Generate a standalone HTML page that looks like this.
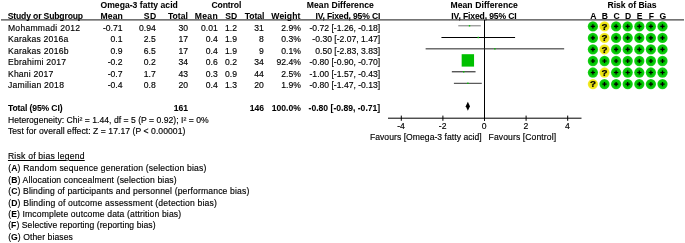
<!DOCTYPE html>
<html><head><meta charset="utf-8"><title>Forest plot</title>
<style>
html,body{margin:0;padding:0;background:#fff;}
#w{filter:blur(0.3px);position:relative;width:685px;height:243px;overflow:hidden;background:#fff;font-family:"Liberation Sans",Arial,sans-serif;font-size:8.6px;color:#000;}
.t{position:absolute;white-space:nowrap;line-height:12px;height:12px;-webkit-text-stroke:0.15px #000;}
.b,.t b{font-weight:bold;-webkit-text-stroke:0.05px #000;}
.q{width:20px;text-align:center;font-size:9.8px;-webkit-text-stroke:0.2px #000;}
svg{position:absolute;left:0;top:0;}
</style></head><body>
<div id="w">
<svg width="685" height="243" viewBox="0 0 685 243">
<defs>
<radialGradient id="gg"><stop offset="0" stop-color="#008000"/><stop offset="0.3" stop-color="#00a800"/><stop offset="0.5" stop-color="#00c400"/><stop offset="0.85" stop-color="#10cc10"/><stop offset="1" stop-color="#30d830"/></radialGradient>
<radialGradient id="yg"><stop offset="0" stop-color="#c8c010"/><stop offset="0.55" stop-color="#e8e010"/><stop offset="0.8" stop-color="#f0e818"/><stop offset="1" stop-color="#f4ee50"/></radialGradient>
</defs>
<line x1="1" y1="19.9" x2="684" y2="19.9" stroke="#444" stroke-width="1.1"/>
<line x1="484.5" y1="19.9" x2="484.5" y2="120.8" stroke="#000" stroke-width="1"/>
<line x1="388" y1="118.2" x2="581.5" y2="118.2" stroke="#000" stroke-width="1"/>
<line x1="401.30" y1="115.60000000000001" x2="401.30" y2="120.8" stroke="#000" stroke-width="1"/>
<line x1="442.90" y1="115.60000000000001" x2="442.90" y2="120.8" stroke="#000" stroke-width="1"/>
<line x1="484.50" y1="115.60000000000001" x2="484.50" y2="120.8" stroke="#000" stroke-width="1"/>
<line x1="526.10" y1="115.60000000000001" x2="526.10" y2="120.8" stroke="#000" stroke-width="1"/>
<line x1="567.70" y1="115.60000000000001" x2="567.70" y2="120.8" stroke="#000" stroke-width="1"/>
<line x1="458.29" y1="25.80" x2="480.76" y2="25.80" stroke="#777" stroke-width="1"/>
<rect x="468.82" y="25.10" width="1.4" height="1.4" fill="#00c000"/>
<circle cx="592.90" cy="26.40" r="5.15" fill="url(#gg)"/>
<path d="M590.80 26.40H595.00M592.90 24.30V28.50" stroke="#000" stroke-width="1.2" fill="none"/>
<circle cx="604.50" cy="26.40" r="5.15" fill="url(#yg)"/>
<circle cx="616.10" cy="26.40" r="5.15" fill="url(#gg)"/>
<path d="M614.00 26.40H618.20M616.10 24.30V28.50" stroke="#000" stroke-width="1.2" fill="none"/>
<circle cx="627.70" cy="26.40" r="5.15" fill="url(#gg)"/>
<path d="M625.60 26.40H629.80M627.70 24.30V28.50" stroke="#000" stroke-width="1.2" fill="none"/>
<circle cx="639.30" cy="26.40" r="5.15" fill="url(#gg)"/>
<path d="M637.20 26.40H641.40M639.30 24.30V28.50" stroke="#000" stroke-width="1.2" fill="none"/>
<circle cx="650.90" cy="26.40" r="5.15" fill="url(#gg)"/>
<path d="M648.80 26.40H653.00M650.90 24.30V28.50" stroke="#000" stroke-width="1.2" fill="none"/>
<circle cx="662.50" cy="26.40" r="5.15" fill="url(#gg)"/>
<path d="M660.40 26.40H664.60M662.50 24.30V28.50" stroke="#000" stroke-width="1.2" fill="none"/>
<line x1="441.44" y1="37.50" x2="515.08" y2="37.50" stroke="#000" stroke-width="1"/>
<rect x="477.56" y="36.80" width="1.4" height="1.4" fill="#00c000"/>
<circle cx="592.90" cy="37.93" r="5.15" fill="url(#gg)"/>
<path d="M590.80 37.93H595.00M592.90 35.83V40.03" stroke="#000" stroke-width="1.2" fill="none"/>
<circle cx="604.50" cy="37.93" r="5.15" fill="url(#yg)"/>
<circle cx="616.10" cy="37.93" r="5.15" fill="url(#gg)"/>
<path d="M614.00 37.93H618.20M616.10 35.83V40.03" stroke="#000" stroke-width="1.2" fill="none"/>
<circle cx="627.70" cy="37.93" r="5.15" fill="url(#gg)"/>
<path d="M625.60 37.93H629.80M627.70 35.83V40.03" stroke="#000" stroke-width="1.2" fill="none"/>
<circle cx="639.30" cy="37.93" r="5.15" fill="url(#gg)"/>
<path d="M637.20 37.93H641.40M639.30 35.83V40.03" stroke="#000" stroke-width="1.2" fill="none"/>
<circle cx="650.90" cy="37.93" r="5.15" fill="url(#gg)"/>
<path d="M648.80 37.93H653.00M650.90 35.83V40.03" stroke="#000" stroke-width="1.2" fill="none"/>
<circle cx="662.50" cy="37.93" r="5.15" fill="url(#gg)"/>
<path d="M660.40 37.93H664.60M662.50 35.83V40.03" stroke="#000" stroke-width="1.2" fill="none"/>
<line x1="425.64" y1="48.85" x2="564.16" y2="48.85" stroke="#222" stroke-width="1"/>
<rect x="494.20" y="48.15" width="1.4" height="1.4" fill="#00c000"/>
<circle cx="592.90" cy="49.46" r="5.15" fill="url(#gg)"/>
<path d="M590.80 49.46H595.00M592.90 47.36V51.56" stroke="#000" stroke-width="1.2" fill="none"/>
<circle cx="604.50" cy="49.46" r="5.15" fill="url(#yg)"/>
<circle cx="616.10" cy="49.46" r="5.15" fill="url(#gg)"/>
<path d="M614.00 49.46H618.20M616.10 47.36V51.56" stroke="#000" stroke-width="1.2" fill="none"/>
<circle cx="627.70" cy="49.46" r="5.15" fill="url(#gg)"/>
<path d="M625.60 49.46H629.80M627.70 47.36V51.56" stroke="#000" stroke-width="1.2" fill="none"/>
<circle cx="639.30" cy="49.46" r="5.15" fill="url(#gg)"/>
<path d="M637.20 49.46H641.40M639.30 47.36V51.56" stroke="#000" stroke-width="1.2" fill="none"/>
<circle cx="650.90" cy="49.46" r="5.15" fill="url(#gg)"/>
<path d="M648.80 49.46H653.00M650.90 47.36V51.56" stroke="#000" stroke-width="1.2" fill="none"/>
<circle cx="662.50" cy="49.46" r="5.15" fill="url(#gg)"/>
<path d="M660.40 49.46H664.60M662.50 47.36V51.56" stroke="#000" stroke-width="1.2" fill="none"/>
<line x1="465.78" y1="60.40" x2="469.94" y2="60.40" stroke="#000" stroke-width="1"/>
<rect x="461.66" y="54.20" width="12.4" height="12.4" fill="#00c000"/>
<circle cx="592.90" cy="60.99" r="5.15" fill="url(#gg)"/>
<path d="M590.80 60.99H595.00M592.90 58.89V63.09" stroke="#000" stroke-width="1.2" fill="none"/>
<circle cx="604.50" cy="60.99" r="5.15" fill="url(#gg)"/>
<path d="M602.40 60.99H606.60M604.50 58.89V63.09" stroke="#000" stroke-width="1.2" fill="none"/>
<circle cx="616.10" cy="60.99" r="5.15" fill="url(#gg)"/>
<path d="M614.00 60.99H618.20M616.10 58.89V63.09" stroke="#000" stroke-width="1.2" fill="none"/>
<circle cx="627.70" cy="60.99" r="5.15" fill="url(#gg)"/>
<path d="M625.60 60.99H629.80M627.70 58.89V63.09" stroke="#000" stroke-width="1.2" fill="none"/>
<circle cx="639.30" cy="60.99" r="5.15" fill="url(#gg)"/>
<path d="M637.20 60.99H641.40M639.30 58.89V63.09" stroke="#000" stroke-width="1.2" fill="none"/>
<circle cx="650.90" cy="60.99" r="5.15" fill="url(#gg)"/>
<path d="M648.80 60.99H653.00M650.90 58.89V63.09" stroke="#000" stroke-width="1.2" fill="none"/>
<circle cx="662.50" cy="60.99" r="5.15" fill="url(#gg)"/>
<path d="M660.40 60.99H664.60M662.50 58.89V63.09" stroke="#000" stroke-width="1.2" fill="none"/>
<line x1="451.84" y1="71.80" x2="475.56" y2="71.80" stroke="#111" stroke-width="1"/>
<rect x="463.00" y="71.10" width="1.4" height="1.4" fill="#00c000"/>
<circle cx="592.90" cy="72.52" r="5.15" fill="url(#gg)"/>
<path d="M590.80 72.52H595.00M592.90 70.42V74.62" stroke="#000" stroke-width="1.2" fill="none"/>
<circle cx="604.50" cy="72.52" r="5.15" fill="url(#yg)"/>
<circle cx="616.10" cy="72.52" r="5.15" fill="url(#gg)"/>
<path d="M614.00 72.52H618.20M616.10 70.42V74.62" stroke="#000" stroke-width="1.2" fill="none"/>
<circle cx="627.70" cy="72.52" r="5.15" fill="url(#gg)"/>
<path d="M625.60 72.52H629.80M627.70 70.42V74.62" stroke="#000" stroke-width="1.2" fill="none"/>
<circle cx="639.30" cy="72.52" r="5.15" fill="url(#gg)"/>
<path d="M637.20 72.52H641.40M639.30 70.42V74.62" stroke="#000" stroke-width="1.2" fill="none"/>
<circle cx="650.90" cy="72.52" r="5.15" fill="url(#gg)"/>
<path d="M648.80 72.52H653.00M650.90 70.42V74.62" stroke="#000" stroke-width="1.2" fill="none"/>
<circle cx="662.50" cy="72.52" r="5.15" fill="url(#gg)"/>
<path d="M660.40 72.52H664.60M662.50 70.42V74.62" stroke="#000" stroke-width="1.2" fill="none"/>
<line x1="453.92" y1="83.30" x2="481.80" y2="83.30" stroke="#333" stroke-width="1"/>
<rect x="467.16" y="82.60" width="1.4" height="1.4" fill="#00c000"/>
<circle cx="592.90" cy="84.05" r="5.15" fill="url(#yg)"/>
<circle cx="604.50" cy="84.05" r="5.15" fill="url(#gg)"/>
<path d="M602.40 84.05H606.60M604.50 81.95V86.15" stroke="#000" stroke-width="1.2" fill="none"/>
<circle cx="616.10" cy="84.05" r="5.15" fill="url(#gg)"/>
<path d="M614.00 84.05H618.20M616.10 81.95V86.15" stroke="#000" stroke-width="1.2" fill="none"/>
<circle cx="627.70" cy="84.05" r="5.15" fill="url(#gg)"/>
<path d="M625.60 84.05H629.80M627.70 81.95V86.15" stroke="#000" stroke-width="1.2" fill="none"/>
<circle cx="639.30" cy="84.05" r="5.15" fill="url(#gg)"/>
<path d="M637.20 84.05H641.40M639.30 81.95V86.15" stroke="#000" stroke-width="1.2" fill="none"/>
<circle cx="650.90" cy="84.05" r="5.15" fill="url(#gg)"/>
<path d="M648.80 84.05H653.00M650.90 81.95V86.15" stroke="#000" stroke-width="1.2" fill="none"/>
<circle cx="662.50" cy="84.05" r="5.15" fill="url(#gg)"/>
<path d="M660.40 84.05H664.60M662.50 81.95V86.15" stroke="#000" stroke-width="1.2" fill="none"/>
<polygon points="465.76,106.3 467.86,101.8 469.96,106.3 467.86,110.8" fill="#000"/>
</svg>
<span class="t b" style="top:-1.35px;left:100.45px;letter-spacing:0.030px;">Omega-3 fatty acid</span>
<span class="t b" style="top:-1.35px;left:211.45px;letter-spacing:-0.110px;">Control</span>
<span class="t b" style="top:-1.35px;left:306.85px;letter-spacing:0.044px;">Mean Difference</span>
<span class="t b" style="top:-1.35px;left:450.45px;letter-spacing:0.072px;">Mean Difference</span>
<span class="t b" style="top:-1.35px;left:607.45px;letter-spacing:-0.009px;">Risk of Bias</span>
<span class="t b" style="top:9.85px;left:7.65px;letter-spacing:-0.146px;">Study or Subgroup</span>
<span class="t b" style="top:9.85px;left:100.45px;letter-spacing:0.144px;">Mean</span>
<span class="t b" style="top:9.85px;left:143.85px;letter-spacing:0.347px;">SD</span>
<span class="t b" style="top:9.85px;left:167.95px;letter-spacing:0.002px;">Total</span>
<span class="t b" style="top:9.85px;left:194.85px;letter-spacing:0.277px;">Mean</span>
<span class="t b" style="top:9.85px;left:225.35px;letter-spacing:-0.153px;">SD</span>
<span class="t b" style="top:9.85px;left:244.85px;letter-spacing:-0.098px;">Total</span>
<span class="t b" style="top:9.85px;left:271.35px;letter-spacing:0.103px;">Weight</span>
<span class="t b" style="top:9.85px;left:315.45px;letter-spacing:-0.163px;">IV, Fixed, 95% CI</span>
<span class="t b" style="top:9.85px;left:451.35px;letter-spacing:-0.138px;">IV, Fixed, 95% CI</span>
<span class="t b" style="top:9.85px;left:443.30px;width:300px;text-align:center;">A</span>
<span class="t b" style="top:9.85px;left:454.90px;width:300px;text-align:center;">B</span>
<span class="t b" style="top:9.85px;left:466.50px;width:300px;text-align:center;">C</span>
<span class="t b" style="top:9.85px;left:478.10px;width:300px;text-align:center;">D</span>
<span class="t b" style="top:9.85px;left:489.70px;width:300px;text-align:center;">E</span>
<span class="t b" style="top:9.85px;left:501.30px;width:300px;text-align:center;">F</span>
<span class="t b" style="top:9.85px;left:512.90px;width:300px;text-align:center;">G</span>
<span class="t" style="top:119.75px;left:251.00px;width:300px;text-align:center;">-4</span>
<span class="t" style="top:119.75px;left:292.60px;width:300px;text-align:center;">-2</span>
<span class="t" style="top:119.75px;left:334.20px;width:300px;text-align:center;">0</span>
<span class="t" style="top:119.75px;left:375.80px;width:300px;text-align:center;">2</span>
<span class="t" style="top:119.75px;left:417.40px;width:300px;text-align:center;">4</span>
<span class="t" style="top:21.75px;left:7.95px;letter-spacing:0.254px;">Mohammadi 2012</span>
<span class="t" style="top:21.75px;right:562.50px;">-0.71</span>
<span class="t" style="top:21.75px;right:529.30px;">0.94</span>
<span class="t" style="top:21.75px;right:497.00px;">30</span>
<span class="t" style="top:21.75px;right:467.30px;">0.01</span>
<span class="t" style="top:21.75px;right:448.00px;">1.2</span>
<span class="t" style="top:21.75px;right:421.20px;">31</span>
<span class="t" style="top:21.75px;right:384.20px;">2.9%</span>
<span class="t" style="top:21.75px;right:304.80px;">-0.72 [-1.26, -0.18]</span>
<span class="t b q" style="left:594.50px;top:20.55px;">?</span>
<span class="t" style="top:33.28px;left:7.95px;letter-spacing:0.216px;">Karakas 2016a</span>
<span class="t" style="top:33.28px;right:562.50px;">0.1</span>
<span class="t" style="top:33.28px;right:529.30px;">2.5</span>
<span class="t" style="top:33.28px;right:497.00px;">17</span>
<span class="t" style="top:33.28px;right:467.30px;">0.4</span>
<span class="t" style="top:33.28px;right:448.00px;">1.9</span>
<span class="t" style="top:33.28px;right:421.20px;">8</span>
<span class="t" style="top:33.28px;right:384.20px;">0.3%</span>
<span class="t" style="top:33.28px;right:304.80px;">-0.30 [-2.07, 1.47]</span>
<span class="t b q" style="left:594.50px;top:32.08px;">?</span>
<span class="t" style="top:44.81px;left:7.95px;letter-spacing:0.241px;">Karakas 2016b</span>
<span class="t" style="top:44.81px;right:562.50px;">0.9</span>
<span class="t" style="top:44.81px;right:529.30px;">6.5</span>
<span class="t" style="top:44.81px;right:497.00px;">17</span>
<span class="t" style="top:44.81px;right:467.30px;">0.4</span>
<span class="t" style="top:44.81px;right:448.00px;">1.9</span>
<span class="t" style="top:44.81px;right:421.20px;">9</span>
<span class="t" style="top:44.81px;right:384.20px;">0.1%</span>
<span class="t" style="top:44.81px;right:304.80px;">0.50 [-2.83, 3.83]</span>
<span class="t b q" style="left:594.50px;top:43.61px;">?</span>
<span class="t" style="top:56.34px;left:7.95px;letter-spacing:0.232px;">Ebrahimi 2017</span>
<span class="t" style="top:56.34px;right:562.50px;">-0.2</span>
<span class="t" style="top:56.34px;right:529.30px;">0.2</span>
<span class="t" style="top:56.34px;right:497.00px;">34</span>
<span class="t" style="top:56.34px;right:467.30px;">0.6</span>
<span class="t" style="top:56.34px;right:448.00px;">0.2</span>
<span class="t" style="top:56.34px;right:421.20px;">34</span>
<span class="t" style="top:56.34px;right:384.20px;">92.4%</span>
<span class="t" style="top:56.34px;right:304.80px;">-0.80 [-0.90, -0.70]</span>
<span class="t" style="top:67.87px;left:7.95px;letter-spacing:0.211px;">Khani 2017</span>
<span class="t" style="top:67.87px;right:562.50px;">-0.7</span>
<span class="t" style="top:67.87px;right:529.30px;">1.7</span>
<span class="t" style="top:67.87px;right:497.00px;">43</span>
<span class="t" style="top:67.87px;right:467.30px;">0.3</span>
<span class="t" style="top:67.87px;right:448.00px;">0.9</span>
<span class="t" style="top:67.87px;right:421.20px;">44</span>
<span class="t" style="top:67.87px;right:384.20px;">2.5%</span>
<span class="t" style="top:67.87px;right:304.80px;">-1.00 [-1.57, -0.43]</span>
<span class="t b q" style="left:594.50px;top:66.67px;">?</span>
<span class="t" style="top:79.40px;left:7.95px;letter-spacing:0.247px;">Jamilian 2018</span>
<span class="t" style="top:79.40px;right:562.50px;">-0.4</span>
<span class="t" style="top:79.40px;right:529.30px;">0.8</span>
<span class="t" style="top:79.40px;right:497.00px;">20</span>
<span class="t" style="top:79.40px;right:467.30px;">0.4</span>
<span class="t" style="top:79.40px;right:448.00px;">1.3</span>
<span class="t" style="top:79.40px;right:421.20px;">20</span>
<span class="t" style="top:79.40px;right:384.20px;">1.9%</span>
<span class="t" style="top:79.40px;right:304.80px;">-0.80 [-1.47, -0.13]</span>
<span class="t b q" style="left:582.90px;top:78.20px;">?</span>
<span class="t b" style="top:101.75px;left:7.95px;letter-spacing:-0.122px;">Total (95% CI)</span>
<span class="t b" style="top:101.75px;right:497.00px;">161</span>
<span class="t b" style="top:101.75px;right:421.00px;">146</span>
<span class="t b" style="top:101.75px;right:384.20px;">100.0%</span>
<span class="t b" style="top:101.75px;right:304.80px;">-0.80 [-0.89, -0.71]</span>
<span class="t" style="top:113.75px;left:7.95px;letter-spacing:0.022px;">Heterogeneity: Chi² = 1.44, df = 5 (P = 0.92); I² = 0%</span>
<span class="t" style="top:124.85px;left:7.95px;letter-spacing:0.051px;">Test for overall effect: Z = 17.17 (P &lt; 0.00001)</span>
<span class="t" style="top:130.65px;left:369.95px;letter-spacing:0.037px;">Favours [Omega-3 fatty acid]</span>
<span class="t" style="top:130.65px;left:488.55px;letter-spacing:0.099px;">Favours [Control]</span>
<span class="t" style="top:150.25px;left:7.95px;letter-spacing:0.221px;text-decoration:underline;">Risk of bias legend</span>
<span class="t" style="top:162.20px;left:8.15px;letter-spacing:0.185px;">(<b>A</b>) Random sequence generation (selection bias)</span>
<span class="t" style="top:173.65px;left:8.15px;letter-spacing:0.144px;">(<b>B</b>) Allocation concealment (selection bias)</span>
<span class="t" style="top:185.10px;left:8.15px;letter-spacing:0.150px;">(<b>C</b>) Blinding of participants and personnel (performance bias)</span>
<span class="t" style="top:196.55px;left:8.15px;letter-spacing:0.192px;">(<b>D</b>) Blinding of outcome assessment (detection bias)</span>
<span class="t" style="top:208.00px;left:8.15px;letter-spacing:0.135px;">(<b>E</b>) Imcomplete outcome data (attrition bias)</span>
<span class="t" style="top:219.45px;left:8.15px;letter-spacing:0.068px;">(<b>F</b>) Selective reporting (reporting bias)</span>
<span class="t" style="top:230.90px;left:8.15px;letter-spacing:0.077px;">(<b>G</b>) Other biases</span>
</div>
</body></html>
